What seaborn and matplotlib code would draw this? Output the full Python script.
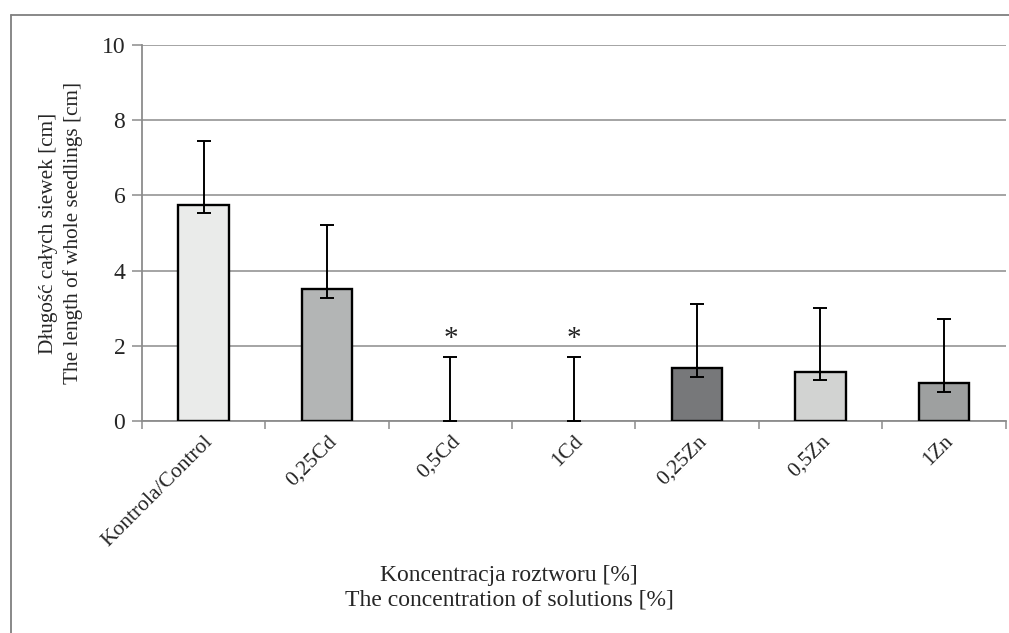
import matplotlib
matplotlib.use("Agg")
import matplotlib.pyplot as plt
from matplotlib.lines import Line2D
import seaborn as sns
import pandas as pd

# Seedling length per treatment
categories = ["Kontrola/Control", "0,25Cd", "0,5Cd", "1Cd", "0,25Zn", "0,5Zn", "1Zn"]
lengths = [5.75, 3.5, 0.0, 0.0, 1.4, 1.3, 1.0]
err_upper = [1.7, 1.7, 1.7, 1.7, 1.7, 1.7, 1.7]
err_lower = [0.22, 0.22, 0.0, 0.0, 0.22, 0.22, 0.22]
significant = [False, False, True, True, False, False, False]
bar_colors = ["#eaebea", "#b3b5b5", "#ffffff", "#ffffff", "#77787a", "#d2d3d2", "#9ea0a0"]
y_ticks = [0, 2, 4, 6, 8, 10]

df = pd.DataFrame({"treatment": categories, "length": lengths})

sns.set_theme(style="white")
plt.rcParams["font.family"] = ["Liberation Serif", "DejaVu Serif"]

grid_col = "#8c8c8c"
fig = plt.figure(figsize=(10.09, 6.33), dpi=100)
ax = fig.add_axes([142 / 1009, 1 - 421 / 633, (1005.5 - 142) / 1009, (421 - 45) / 633])

sns.barplot(data=df, x="treatment", y="length", hue="treatment", palette=bar_colors,
            legend=False, width=0.41, edgecolor="black", linewidth=1.7, ax=ax, zorder=3)

# empty treatments have no visible bar outline
for patch in ax.patches:
    if patch.get_height() == 0:
        patch.set_linewidth(0)
        patch.set_edgecolor("none")

xs = list(range(len(categories)))
ax.errorbar(xs, lengths, yerr=[err_lower, err_upper], fmt="none", ecolor="black",
            elinewidth=1.4, capsize=5, capthick=1.4, zorder=4)

for x, top, sig in zip(xs, [v + e for v, e in zip(lengths, err_upper)], significant):
    if sig:
        ax.annotate("*", xy=(x, top), xytext=(0, 4), textcoords="offset points",
                    ha="center", va="bottom", fontsize=21, color="#222222")

ax.set_ylim(0, 10)
ax.set_xlim(-0.5, len(categories) - 0.5)
ax.set_yticks(y_ticks)
ax.yaxis.grid(True, color=grid_col, linewidth=1.1, zorder=0)
ax.set_axisbelow(True)

# category ticks sit between bars, labels under the bars
ax.set_xticks([i - 0.5 for i in range(len(categories) + 1)], minor=False)
ax.set_xticklabels([])
ax.set_xticks(xs, minor=True)
ax.set_xticklabels(categories, minor=True, rotation=45, ha="right",
                   rotation_mode="anchor", fontsize=15.5)
ax.tick_params(axis="x", which="major", direction="out", length=6, width=1.1,
               color=grid_col, bottom=True)
ax.tick_params(axis="x", which="minor", length=0, pad=8)
ax.tick_params(axis="y", direction="out", length=7, width=1.1, color=grid_col,
               labelsize=17, pad=5, left=True)

for side in ["top", "right"]:
    ax.spines[side].set_visible(False)
for side in ["left", "bottom"]:
    ax.spines[side].set_color(grid_col)
    ax.spines[side].set_linewidth(1.3)

ax.set_xlabel("")
ax.set_ylabel("Długość całych siewek [cm]\nThe length of whole seedlings [cm]",
              fontsize=15.3, linespacing=1.4)
ax.yaxis.label.set_verticalalignment("center")
ax.yaxis.set_label_coords((61 - 142) / 863.5, 0.5)

fig.text(509 / 1009, 1 - 588 / 633,
         "Koncentracja roztworu [%]\nThe concentration of solutions [%]",
         ha="center", va="center", fontsize=17, linespacing=1.2)

# outer frame: top and left edges
fig.add_artist(Line2D([11 / 1009, 1], [1 - 15 / 633, 1 - 15 / 633],
                      transform=fig.transFigure, color="#7f7f7f", linewidth=1.3))
fig.add_artist(Line2D([11 / 1009, 11 / 1009], [0, 1 - 15 / 633],
                      transform=fig.transFigure, color="#7f7f7f", linewidth=1.3))

fig.savefig("out.png", dpi=100, facecolor="white")
